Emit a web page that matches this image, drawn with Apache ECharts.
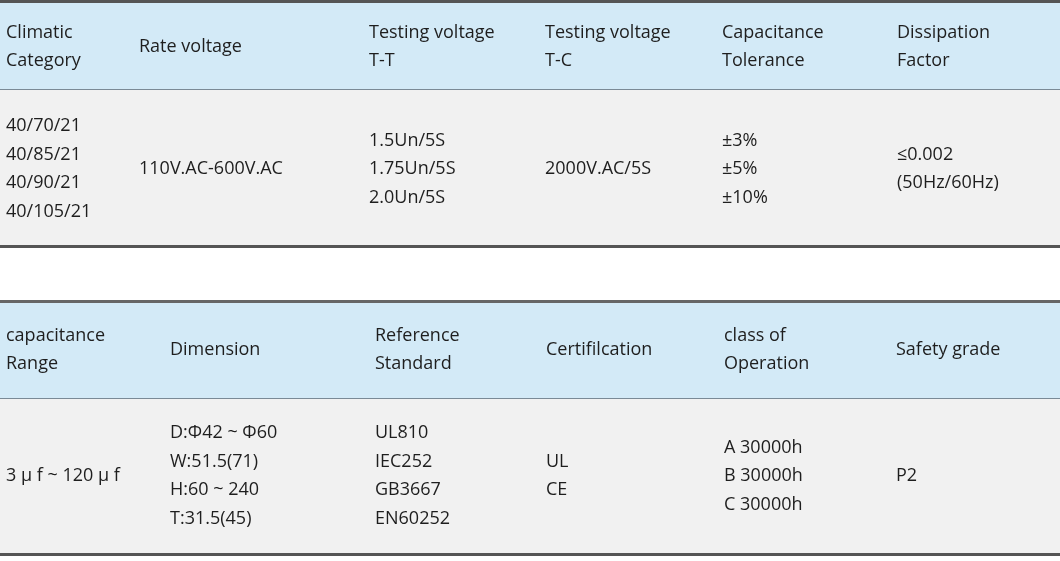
<!DOCTYPE html>
<html>
<head>
<meta charset="utf-8">
<script src="https://cdn.jsdelivr.net/npm/echarts@6/dist/echarts.min.js"></script>
<style>
  html, body { margin: 0; padding: 0; background: #fff; }
  #main { width: 1060px; height: 561px; }
</style>
</head>
<body>
<div id="main"></div>
<script>
// table 1
var head1 = ['Climatic\nCategory', 'Rate voltage', 'Testing voltage\nT-T', 'Testing voltage\nT-C', 'Capacitance\nTolerance', 'Dissipation\nFactor'];
var body1 = ['40/70/21\n40/85/21\n40/90/21\n40/105/21', '110V.AC-600V.AC', '1.5Un/5S\n1.75Un/5S\n2.0Un/5S', '2000V.AC/5S', '±3%\n±5%\n±10%', '≤0.002\n(50Hz/60Hz)'];
var cols1 = [6, 139, 369, 545, 722, 897];

// table 2
var head2 = ['capacitance\nRange', 'Dimension', 'Reference\nStandard', 'Certifilcation', 'class of\nOperation', 'Safety grade'];
var body2 = ['3 μ f ~ 120 μ f', 'D:Φ42 ~ Φ60\nW:51.5(71)\nH:60 ~ 240\nT:31.5(45)', 'UL810\nIEC252\nGB3667\nEN60252', 'UL\nCE', 'A 30000h\nB 30000h\nC 30000h', 'P2'];
var cols2 = [6, 170, 375, 546, 724, 896];

var W = 1060;
var txtStyle = { fontFamily: 'Open Sans', fontSize: 18, fill: '#1e1e1e', lineHeight: 28.5, verticalAlign: 'middle' };

function rect(y, h, color) {
  return { type: 'rect', shape: { x: 0, y: y, width: W, height: h }, style: { fill: color } };
}
function cells(texts, xs, cy) {
  return texts.map(function (t, i) {
    return { type: 'text', x: xs[i], y: cy, style: Object.assign({ text: t }, txtStyle) };
  });
}

var elements = [
  rect(0, 3, '#555555'),
  rect(3, 86, '#d3eaf7'),
  rect(89, 1, '#7a8a96'),
  rect(90, 155, '#f1f1f1'),
  rect(245, 3, '#555555'),

  rect(300, 3, '#666666'),
  rect(303, 95, '#d3eaf7'),
  rect(398, 1, '#7a8a96'),
  rect(399, 154, '#f1f1f1'),
  rect(553, 3, '#555555')
];
elements = elements
  .concat(cells(head1, cols1, 47))
  .concat(cells(body1, cols1, 169))
  .concat(cells(head2, cols2, 350))
  .concat(cells(body2, cols2, 476));

var chart = echarts.init(document.getElementById('main'));
chart.setOption({
  animation: false,
  graphic: { elements: elements }
});
</script>
</body>
</html>
